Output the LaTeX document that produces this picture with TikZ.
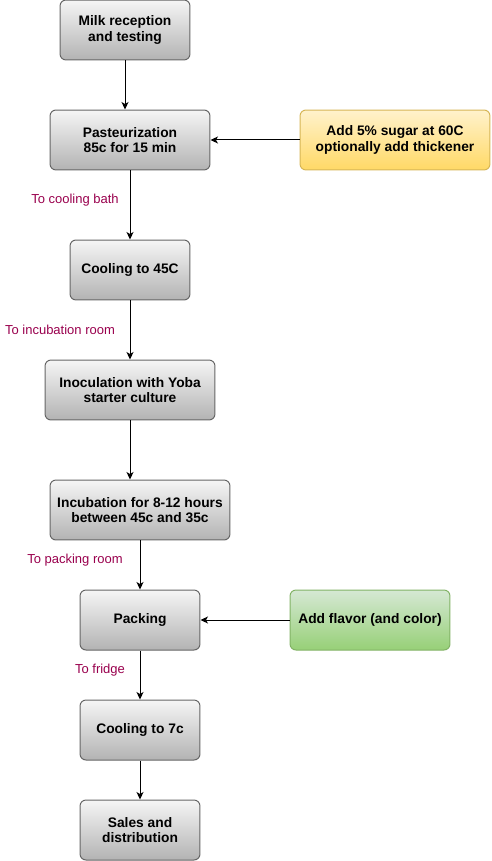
\documentclass[tikz,border=0pt]{standalone}
\usepackage{fontspec}
\setmainfont{Liberation Sans}
\usetikzlibrary{arrows.meta,positioning}
\definecolor{grayline}{HTML}{666666}
\definecolor{graytop}{HTML}{F5F5F5}
\definecolor{graybot}{HTML}{B3B3B3}
\definecolor{sugarline}{HTML}{D6B656}
\definecolor{sugartop}{HTML}{FFF2CC}
\definecolor{sugarbot}{HTML}{FFD966}
\definecolor{flavorline}{HTML}{82B366}
\definecolor{flavortop}{HTML}{D5E8D4}
\definecolor{flavorbot}{HTML}{97D077}
\definecolor{lblcol}{HTML}{99004D}
\begin{document}
\begin{tikzpicture}[x=0.02cm,y=-0.02cm]
    \tikzstyle{proc}=[rectangle,rounded corners=0.12cm,draw=grayline,line width=0.02cm,
      top color=graytop,bottom color=graybot,minimum height=1.2cm,inner sep=0pt,
      align=center,font=\fontsize{7.85}{8.9}\selectfont\bfseries]
    \tikzstyle{addsugar}=[proc,draw=sugarline,top color=sugartop,bottom color=sugarbot]
    \tikzstyle{addflavor}=[proc,draw=flavorline,top color=flavortop,bottom color=flavorbot]
    \tikzstyle{lbl}=[inner sep=0pt,text=lblcol,font=\fontsize{7.4}{8.5}\selectfont]
    \tikzstyle{flow}=[line width=0.02cm,-{Stealth[length=0.15cm,width=0.14cm,inset=0.04cm]}]

    \useasboundingbox (0,0) rectangle (491,861);

    \node[proc,minimum width=2.6cm] (milk) at (125,30) {Milk reception\\and testing};
    \node[proc,minimum width=3.2cm] (past) at (130,140) {Pasteurization\\85c for 15 min};
    \node[addsugar,minimum width=3.8cm] (sugar) at (395,140) {Add 5\% sugar at 60C\\optionally add thickener};
    \node[proc,minimum width=2.4cm] (cool45) at (130,270) {Cooling to 45C};
    \node[proc,minimum width=3.4cm] (inoc) at (130,390) {Inoculation with Yoba\\starter culture};
    \node[proc,minimum width=3.6cm] (incub) at (140,510) {Incubation for 8-12 hours\\between 45c and 35c};
    \node[proc,minimum width=2.4cm] (pack) at (140,620) {Packing};
    \node[addflavor,minimum width=3.2cm] (flavor) at (370,620) {Add flavor (and color)};
    \node[proc,minimum width=2.4cm] (cool7) at (140,730) {Cooling to 7c};
    \node[proc,minimum width=2.4cm] (sales) at (140,830) {Sales and\\distribution};

    \node[lbl] (tobath) at (75,200) {To cooling bath};
    \node[lbl] (toincub) at (60,330) {To incubation room};
    \node[lbl] (topack) at (75,560) {To packing room};
    \node[lbl] (tofridge) at (100,670) {To fridge};

    \path[flow]
    (milk) edge (milk |- past.north)
    (sugar) edge (past)
    (past) edge (cool45)
    (cool45) edge (inoc)
    (inoc) edge (inoc |- incub.north)
    (incub) edge (pack)
    (flavor) edge (pack)
    (pack) edge (cool7)
    (cool7) edge (sales);
  \end{tikzpicture}
\end{document}
